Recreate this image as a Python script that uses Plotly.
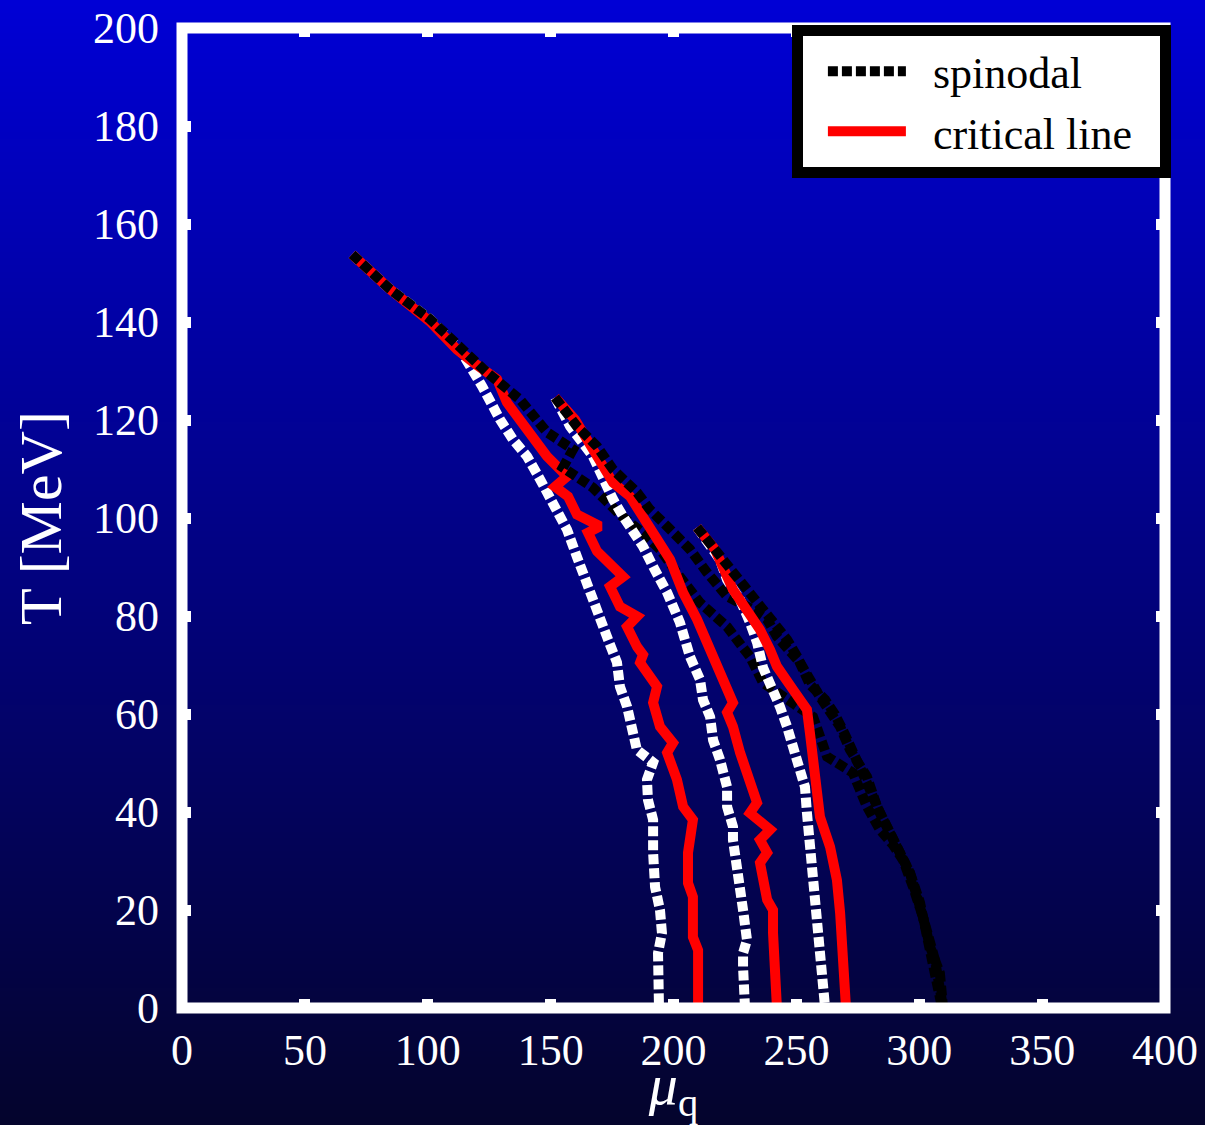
import zlib, struct, base64
import plotly.graph_objects as go

# ---------------- data (mu_q [MeV], T [MeV]) ----------------
# set 1
w1_mu = [69.2, 84.6, 100.9, 113.1, 122.1, 125.3, 129.4, 134.7, 140.4, 145.7, 151.0, 156.7, 160.7, 164.0,
         168.1, 170.1, 172.9, 177.0, 178.2, 181.1, 183.5, 185.1, 191.7, 189.2, 189.6, 191.7, 191.7, 192.5,
         194.5, 195.3, 193.7, 193.7, 194.1]
w1_T = [153.8, 146.7, 140.6, 134.4, 126.9, 123.6, 120.1, 116.0, 112.6, 107.9, 103.2, 97.6, 92.1, 87.4,
        82.3, 79.3, 75.8, 70.5, 65.6, 61.5, 56.8, 52.7, 50.1, 46.6, 42.5, 38.4, 31.7, 24.7,
        20.0, 15.3, 11.2, 4.3, 0.0]
r1_mu = [69.2, 84.6, 100.9, 111.9, 118.4, 128.2, 132.2, 137.5, 142.8, 148.5, 156.7, 151.8, 157.1, 160.7,
         170.1, 165.2, 168.9, 179.5, 174.2, 178.2, 185.2, 181.1, 185.2, 187.6, 186.4, 193.3, 191.7, 194.5,
         199.8, 197.4, 201.4, 203.9, 207.9, 205.9, 205.9, 207.9, 207.9, 210.0, 210.0]
r1_T = [153.8, 146.7, 140.1, 134.4, 131.8, 128.3, 123.6, 120.1, 116.4, 112.6, 108.5, 106.4, 104.4, 100.7,
        98.3, 97.0, 93.2, 88.0, 86.0, 81.9, 79.9, 77.8, 73.7, 72.1, 70.5, 65.6, 62.3, 57.4,
        54.1, 52.1, 46.6, 41.1, 38.4, 31.7, 25.5, 22.7, 14.5, 11.8, 0.0]
b1_mu = [69.2, 84.6, 100.9, 114.3, 124.1, 137.5, 148.5, 159.1, 155.0, 167.2, 178.2, 188.4, 194.5, 202.6,
         210.8, 221.8, 231.1, 236.4, 247.4, 256.8, 262.5, 273.0, 278.7, 284.0, 289.3, 293.4, 297.5, 301.5,
         304.4, 308.4, 309.7]
b1_T = [153.8, 146.7, 140.6, 134.4, 129.7, 124.2, 117.5, 114.0, 110.3, 106.2, 100.7, 96.6, 93.6, 88.0,
        82.7, 77.8, 71.7, 66.4, 62.9, 59.4, 51.3, 48.0, 41.1, 36.4, 33.3, 30.2, 24.7, 18.6,
        12.5, 7.1, 0.0]
# set 2
w2_mu = [151.8, 157.9, 167.2, 171.3, 175.4, 179.5, 183.5, 187.6, 191.7, 197.4, 202.6, 206.7, 210.8, 212.0,
         214.9, 216.1, 218.9, 221.8, 221.8, 224.2, 224.2, 225.8, 227.1, 228.3, 229.9, 228.3, 228.3, 229.1]
w2_T = [124.6, 118.7, 112.6, 107.9, 103.8, 100.3, 97.6, 94.2, 90.1, 84.8, 78.7, 71.7, 67.0, 62.9,
        59.4, 54.7, 50.7, 45.1, 41.1, 37.0, 34.3, 29.6, 24.7, 20.0, 13.9, 11.2, 8.4, 0.0]
r2_mu = [151.8, 159.9, 168.9, 175.4, 182.3, 187.6, 193.3, 198.6, 201.4, 203.9, 209.6, 213.6, 217.7, 221.8,
         224.2, 221.8, 224.2, 227.1, 231.1, 234.0, 231.1, 235.2, 239.3, 235.2, 238.1, 235.2, 238.1, 240.5,
         240.5, 242.1]
r2_T = [124.6, 120.1, 112.6, 107.2, 104.4, 100.3, 96.2, 91.5, 88.0, 84.8, 79.3, 74.6, 69.7, 64.4,
        62.3, 60.3, 57.4, 52.1, 46.6, 41.9, 39.8, 37.8, 36.4, 34.3, 31.7, 29.6, 22.1, 20.0,
        15.3, 0.0]
b2_mu = [151.8, 156.7, 160.7, 168.9, 175.4, 185.2, 190.4, 197.4, 206.7, 213.6, 221.8, 232.3, 238.1, 242.1,
         251.5, 259.6, 267.8, 271.8, 278.7, 282.8, 289.3, 296.2, 300.3, 304.4, 309.3]
b2_T = [124.6, 121.5, 118.7, 114.6, 109.9, 105.2, 101.7, 98.3, 93.6, 88.9, 84.0, 81.3, 79.3, 75.8,
        70.5, 63.5, 57.4, 52.7, 47.2, 41.1, 34.3, 27.6, 21.5, 12.5, 0.0]
# set 3
w3_mu = [209.6, 214.9, 218.9, 221.8, 227.1, 231.1, 234.0, 236.4, 240.5, 243.3, 246.2, 248.6, 251.5, 253.5,
         254.3, 255.5, 256.8, 258.4, 259.6, 260.8, 261.7]
w3_T = [98.1, 94.6, 91.5, 87.4, 83.3, 78.7, 74.6, 69.5, 65.0, 61.5, 57.4, 53.3, 49.2, 45.1,
        39.8, 32.9, 26.1, 19.4, 12.5, 5.7, 0.0]
r3_mu = [209.6, 216.9, 224.2, 231.1, 235.2, 239.3, 242.1, 248.6, 254.3, 255.5, 256.8, 258.4, 259.6, 263.7,
         266.5, 267.8, 268.6, 269.8, 270.2]
r3_T = [98.1, 93.6, 85.4, 80.7, 77.2, 73.1, 69.7, 65.0, 60.9, 56.2, 50.7, 45.1, 39.0, 32.9,
        26.1, 19.4, 12.5, 5.7, 0.0]
b3_mu = [209.6, 213.6, 217.7, 221.8, 225.8, 229.9, 234.0, 238.1, 242.1, 246.2, 250.3, 255.5, 261.7, 265.7,
         269.8, 273.9, 276.7, 280.0, 284.0, 289.3, 296.2, 301.5, 306.4, 309.7]
b3_T = [98.1, 95.6, 93.0, 90.1, 88.0, 84.8, 82.7, 79.9, 77.8, 75.2, 71.7, 66.0, 62.9, 59.9,
        55.8, 51.7, 48.6, 44.5, 39.8, 34.3, 27.6, 18.6, 9.8, 0.0]

x_ticks = [0, 50, 100, 150, 200, 250, 300, 350, 400]
y_ticks = [0, 20, 40, 60, 80, 100, 120, 140, 160, 180, 200]
legend_names = ["spinodal", "critical line"]

# ---------------- background gradient image ----------------
def gradient_png(top, bottom, h=512, w=2):
    raw = b""
    for i in range(h):
        t = i / (h - 1)
        px = bytes(round(top[k] + (bottom[k] - top[k]) * t) for k in range(3))
        raw += b"\x00" + px * w
    def chunk(tag, data):
        c = struct.pack(">I", len(data)) + tag + data
        return c + struct.pack(">I", zlib.crc32(tag + data) & 0xffffffff)
    png = (b"\x89PNG\r\n\x1a\n"
           + chunk(b"IHDR", struct.pack(">IIBBBBB", w, h, 8, 2, 0, 0, 0))
           + chunk(b"IDAT", zlib.compress(raw))
           + chunk(b"IEND", b""))
    return "data:image/png;base64," + base64.b64encode(png).decode()

W, H = 1205, 1125
ML, MR, MT, MB = 182, 40, 28, 117
PW, PH = W - ML - MR, H - MT - MB

FONT = "Liberation Serif"
DOT = "10px,4px"
LW = 10
NB = "\u00a0"

fig = go.Figure()
sets = [(w1_mu, w1_T, r1_mu, r1_T, b1_mu, b1_T),
        (w2_mu, w2_T, r2_mu, r2_T, b2_mu, b2_T),
        (w3_mu, w3_T, r3_mu, r3_T, b3_mu, b3_T)]
for i, (wx, wy, rx, ry, bx, by) in enumerate(sets):
    fig.add_trace(go.Scatter(x=wx, y=wy, mode="lines", showlegend=False, hoverinfo="skip",
                             line=dict(color="white", width=LW, dash=DOT)))
    fig.add_trace(go.Scatter(x=rx, y=ry, mode="lines", name=NB * 2 + legend_names[1] + NB * 2,
                             showlegend=(i == 0), legendrank=2,
                             line=dict(color="#ff0000", width=LW)))
    fig.add_trace(go.Scatter(x=bx, y=by, mode="lines", name=NB * 2 + legend_names[0],
                             showlegend=(i == 0), legendrank=1,
                             line=dict(color="black", width=LW, dash=DOT)))

axis_common = dict(showgrid=False, zeroline=False, showline=False, ticks="inside", mirror="ticks",
                   tickcolor="white", ticklen=9, tickwidth=11, automargin=False,
                   tickfont=dict(family=FONT, size=44, color="white"))
fig.update_xaxes(range=[0, 400], tickvals=x_ticks, ticktext=[str(v) for v in x_ticks],
                 ticklabelstandoff=12,
                 title=dict(text="<i>μ</i><sub>q</sub>", font=dict(family=FONT, size=58, color="white"),
                            standoff=4), **axis_common)
fig.update_yaxes(range=[0, 200], tickvals=y_ticks, ticktext=[str(v) for v in y_ticks],
                 ticklabelstandoff=22,
                 title=dict(text="T [MeV]", font=dict(family=FONT, size=60, color="white"),
                            standoff=12), **axis_common)

fig.update_layout(
    width=W, height=H,
    margin=dict(l=ML, r=MR, t=MT, b=MB, autoexpand=False),
    paper_bgcolor="#000070", plot_bgcolor="rgba(0,0,0,0)",
    images=[dict(source=gradient_png((0, 0, 214), (4, 4, 44)), xref="paper", yref="paper",
                 x=-(ML + 10) / PW, y=1 + (MT + 4) / PH, sizex=(W + 20) / PW, sizey=(H + 8) / PH,
                 xanchor="left", yanchor="top", sizing="stretch", layer="below")],
    shapes=[dict(type="rect", xref="paper", yref="paper", x0=0, x1=1, y0=0, y1=1,
                 line=dict(color="white", width=11), layer="above")],
    legend=dict(x=1.006, y=1.003, xanchor="right", yanchor="top", bgcolor="white",
                bordercolor="black", borderwidth=11, itemwidth=78, indentation=20,
                font=dict(family=FONT, size=44, color="black")),
)

fig.write_html("out.html")
